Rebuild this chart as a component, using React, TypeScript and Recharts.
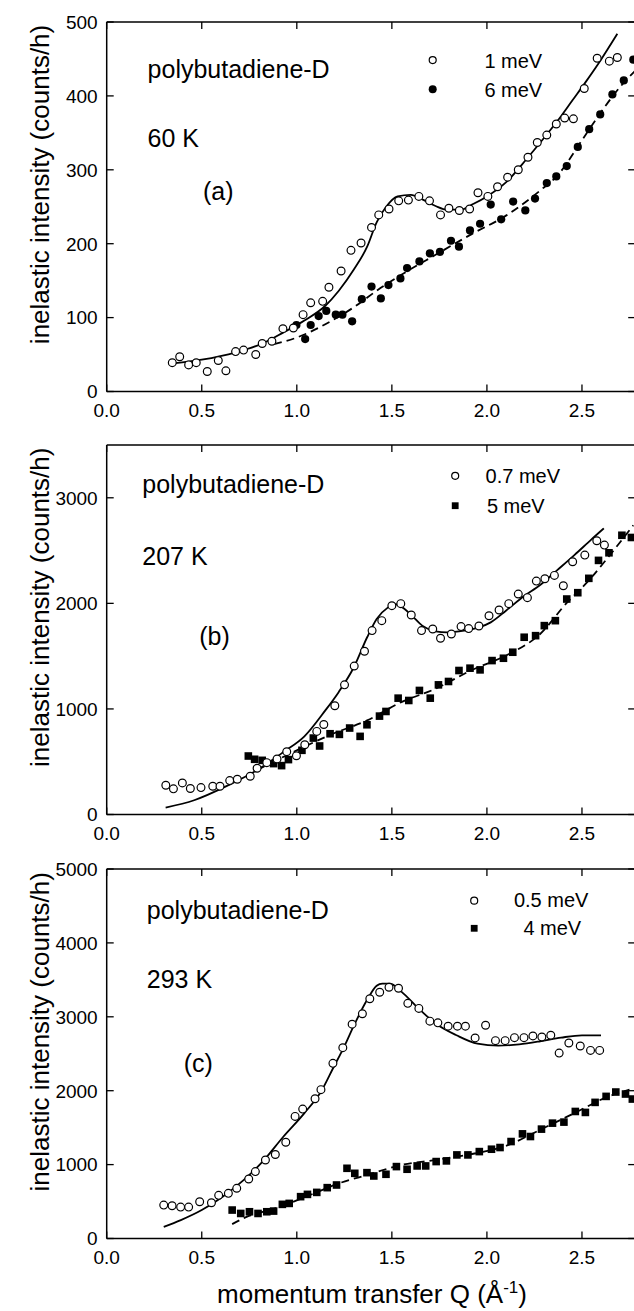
import React from 'react';
import { ComposedChart, Line, Scatter, XAxis, YAxis } from 'recharts';

const FONT = '"Liberation Sans", Arial, Helvetica, sans-serif';

// ---------- axes ----------
const qTicks = [0, 0.5, 1.0, 1.5, 2.0, 2.5];
const Q_MAX = 2.78;
const ticksA = [0, 100, 200, 300, 400, 500];
const ticksB = [0, 1000, 2000, 3000];
const ticksC = [0, 1000, 2000, 3000, 4000, 5000];

const pts = (arr: number[][]) => arr.map(([q, v]) => ({ q, v }));

// ---------- panel (a) 60 K ----------
const a_1meV = pts([
  [0.345, 39], [0.384, 47], [0.431, 36], [0.471, 39], [0.529, 27], [0.587, 42], [0.627, 28],
  [0.678, 54], [0.72, 56], [0.784, 50], [0.818, 65], [0.869, 68], [0.927, 85], [0.982, 86],
  [1.033, 104], [1.073, 120], [1.136, 122], [1.169, 141], [1.233, 163], [1.285, 191],
  [1.338, 201], [1.393, 222], [1.431, 239], [1.485, 247], [1.536, 258], [1.587, 259],
  [1.642, 264], [1.698, 258], [1.756, 239], [1.8, 248], [1.855, 245], [1.909, 247],
  [1.953, 269], [2.005, 264], [2.056, 277], [2.109, 290], [2.165, 300], [2.216, 317],
  [2.265, 337], [2.315, 347], [2.365, 362], [2.409, 370], [2.455, 369], [2.512, 410],
  [2.58, 451], [2.644, 447], [2.686, 452],
]);
const a_6meV = pts([
  [0.998, 90], [1.044, 71], [1.073, 90], [1.115, 102], [1.155, 109], [1.205, 104], [1.24, 104],
  [1.291, 95], [1.342, 125], [1.393, 142], [1.442, 126], [1.482, 144], [1.545, 153], [1.58, 167],
  [1.645, 176], [1.7, 187], [1.753, 189], [1.811, 204], [1.853, 196], [1.911, 218], [1.964, 227],
  [2.02, 253], [2.075, 233], [2.138, 257], [2.202, 245], [2.253, 261], [2.315, 282], [2.365, 291],
  [2.42, 305], [2.478, 331], [2.538, 355], [2.596, 375], [2.66, 402], [2.72, 421], [2.77, 449],
]);
const a_fit1 = pts([
  [0.35, 38], [0.5, 43], [0.68, 53], [0.82, 65], [0.93, 80], [1.04, 96], [1.15, 116], [1.22, 136],
  [1.3, 165], [1.37, 196], [1.42, 229], [1.47, 250], [1.53, 264], [1.6, 266], [1.66, 260],
  [1.73, 251], [1.79, 246], [1.86, 246], [1.93, 254], [2.0, 264], [2.1, 283], [2.21, 315],
  [2.3, 343], [2.38, 369], [2.45, 394], [2.52, 419], [2.6, 449], [2.686, 484],
]);
const a_fit6 = pts([
  [0.88, 64], [1.0, 73], [1.15, 91], [1.3, 114], [1.44, 140], [1.55, 158], [1.73, 185],
  [1.92, 213], [2.1, 238], [2.28, 272], [2.37, 292], [2.5, 340], [2.6, 378], [2.7, 412], [2.78, 434],
]);

// ---------- panel (b) 207 K ----------
const b_07meV = pts([
  [0.311, 277], [0.351, 243], [0.398, 299], [0.44, 246], [0.496, 255], [0.558, 268], [0.596, 268],
  [0.647, 321], [0.687, 334], [0.755, 362], [0.791, 438], [0.842, 491], [0.896, 526], [0.947, 595],
  [0.998, 557], [1.042, 661], [1.105, 787], [1.142, 853], [1.2, 1030], [1.251, 1228], [1.302, 1406],
  [1.356, 1546], [1.396, 1742], [1.447, 1836], [1.5, 1978], [1.547, 1997], [1.602, 1890],
  [1.656, 1742], [1.715, 1757], [1.756, 1669], [1.813, 1710], [1.864, 1780], [1.904, 1761],
  [1.958, 1786], [2.011, 1883], [2.064, 1937], [2.115, 1997], [2.165, 2088], [2.213, 2054],
  [2.26, 2211], [2.305, 2233], [2.355, 2265], [2.402, 2167], [2.451, 2394], [2.515, 2457],
  [2.578, 2593], [2.618, 2552],
]);
const b_5meV = pts([
  [0.745, 554], [0.778, 523], [0.818, 513], [0.878, 482], [0.92, 463], [0.956, 520], [1.027, 608],
  [1.087, 724], [1.12, 649], [1.175, 765], [1.224, 759], [1.278, 819], [1.333, 740], [1.369, 850],
  [1.435, 932], [1.469, 976], [1.533, 1102], [1.589, 1080], [1.645, 1175], [1.702, 1102],
  [1.745, 1228], [1.798, 1260], [1.853, 1364], [1.911, 1386], [1.964, 1370], [2.027, 1458],
  [2.087, 1480], [2.136, 1537], [2.196, 1679], [2.256, 1694], [2.302, 1789], [2.36, 1836],
  [2.42, 2041], [2.478, 2101], [2.536, 2237], [2.587, 2407], [2.642, 2479], [2.71, 2645], [2.76, 2624],
]);
const b_fit07 = pts([
  [0.31, 66], [0.46, 135], [0.64, 277], [0.79, 419], [0.93, 592], [1.04, 740], [1.15, 986],
  [1.22, 1159], [1.3, 1395], [1.37, 1679], [1.42, 1852], [1.48, 1962], [1.515, 1994], [1.55, 1969],
  [1.605, 1884], [1.66, 1789], [1.73, 1735], [1.79, 1726], [1.88, 1742], [1.95, 1767], [2.02, 1820],
  [2.1, 1930], [2.19, 2063], [2.28, 2174], [2.37, 2315], [2.46, 2457], [2.55, 2606], [2.615, 2710],
]);
const b_fit5 = pts([
  [0.8, 430], [1.0, 608], [1.19, 765], [1.37, 891], [1.55, 1065], [1.73, 1191], [1.915, 1364],
  [2.1, 1506], [2.28, 1710], [2.42, 2005], [2.53, 2205], [2.64, 2442], [2.77, 2740],
]);

// ---------- panel (c) 293 K ----------
const c_05meV = pts([
  [0.3, 452], [0.344, 443], [0.389, 425], [0.431, 425], [0.489, 498], [0.551, 484], [0.589, 584],
  [0.64, 611], [0.684, 679], [0.747, 805], [0.782, 905], [0.835, 1063], [0.887, 1136], [0.942, 1303],
  [0.991, 1652], [1.031, 1751], [1.096, 1891], [1.127, 2014], [1.19, 2370], [1.242, 2582],
  [1.291, 2900], [1.345, 3041], [1.384, 3245], [1.436, 3332], [1.485, 3400], [1.535, 3386],
  [1.584, 3182], [1.642, 3114], [1.7, 2941], [1.742, 2918], [1.796, 2873], [1.845, 2873],
  [1.887, 2873], [1.938, 2714], [1.993, 2886], [2.045, 2677], [2.096, 2677], [2.145, 2718],
  [2.195, 2718], [2.242, 2741], [2.289, 2727], [2.336, 2750], [2.38, 2509], [2.431, 2645],
  [2.491, 2605], [2.545, 2545], [2.593, 2545],
]);
const c_4meV = pts([
  [0.66, 385], [0.705, 339], [0.751, 362], [0.796, 339], [0.842, 362], [0.878, 371], [0.924, 462],
  [0.96, 475], [1.02, 566], [1.056, 597], [1.105, 624], [1.16, 688], [1.209, 724], [1.264, 950],
  [1.305, 882], [1.369, 891], [1.405, 846], [1.469, 869], [1.524, 973], [1.58, 937], [1.633, 982],
  [1.678, 982], [1.733, 1041], [1.787, 1050], [1.842, 1131], [1.9, 1131], [1.96, 1176],
  [2.024, 1208], [2.069, 1231], [2.127, 1312], [2.187, 1416], [2.229, 1380], [2.287, 1480],
  [2.345, 1561], [2.405, 1575], [2.465, 1719], [2.518, 1706], [2.569, 1842], [2.627, 1923],
  [2.678, 1982], [2.729, 1955], [2.765, 1887],
]);
const c_fit05 = pts([
  [0.3, 158], [0.39, 249], [0.5, 385], [0.61, 566], [0.72, 790], [0.82, 1040], [0.93, 1380],
  [1.04, 1697], [1.13, 2000], [1.19, 2300], [1.25, 2600], [1.3, 2880], [1.37, 3230], [1.42, 3420],
  [1.45, 3450], [1.49, 3450], [1.55, 3341], [1.64, 3114], [1.73, 2909], [1.84, 2750], [1.95, 2636],
  [2.06, 2609], [2.17, 2627], [2.28, 2668], [2.39, 2718], [2.5, 2750], [2.6, 2750],
]);
const c_fit4 = pts([
  [0.66, 195], [0.73, 285], [0.9, 420], [1.1, 620], [1.22, 745], [1.37, 860], [1.55, 995],
  [1.73, 1063], [1.915, 1140], [2.1, 1253], [2.28, 1471], [2.46, 1697], [2.64, 1923], [2.75, 2014],
]);

// ---------- geometry ----------
const CW = 640;
const CH = 420;
const PLOT_LEFT = 106.7;
const PLOT_RIGHT = 635.2;
const PLOT_H = 369.5;
const AXS = 1; // axis band size (axes with size 0 are not drawn)
const MARGIN = {
  top: 20 - AXS,
  left: PLOT_LEFT - AXS,
  right: CW - PLOT_RIGHT - AXS,
  bottom: CH - 20 - PLOT_H - AXS,
};
const TICK = 7;
const AX = { stroke: '#000', strokeWidth: 1.5 };

const BottomTick = (p: any) => (
  <g>
    <line x1={p.x} x2={p.x} y1={p.y} y2={p.y - TICK} stroke="#000" strokeWidth={1.3} />
    <text x={p.x} y={p.y + 25} textAnchor="middle" fontSize={19} fontFamily={FONT} fill="#000">
      {Number(p.payload.value).toFixed(1)}
    </text>
  </g>
);
const TopTick = (p: any) => (
  <line x1={p.x} x2={p.x} y1={p.y} y2={p.y + TICK} stroke="#000" strokeWidth={1.3} />
);
const LeftTick = (p: any) => (
  <g>
    <line x1={p.x} x2={p.x + TICK} y1={p.y} y2={p.y} stroke="#000" strokeWidth={1.3} />
    <text x={p.x - 9} y={p.y + 6.8} textAnchor="end" fontSize={19} fontFamily={FONT} fill="#000">
      {p.payload.value}
    </text>
  </g>
);
const RightTick = (p: any) => (
  <line x1={p.x} x2={p.x - TICK} y1={p.y} y2={p.y} stroke="#000" strokeWidth={1.3} />
);

const OpenCircle = (p: any) => (
  <circle cx={p.cx} cy={p.cy} r={3.9} fill="#fff" stroke="#000" strokeWidth={1.2} />
);
const FilledCircle = (p: any) => <circle cx={p.cx} cy={p.cy} r={4.1} fill="#000" />;
const FilledSquare = (p: any) => (
  <rect x={p.cx - 3.8} y={p.cy - 3.8} width={7.6} height={7.6} fill="#000" />
);

type PanelProps = {
  top: number;
  yMax: number;
  yTicks: number[];
  open: any[];
  openFit: any[];
  filled: any[];
  filledFit: any[];
  filledShape: any;
  dash: string;
};

function Panel({ top, yMax, yTicks, open, openFit, filled, filledFit, filledShape, dash }: PanelProps) {
  return (
    <div style={{ position: 'absolute', left: 0, top }}>
      <ComposedChart width={CW} height={CH} margin={MARGIN}>
        <XAxis dataKey="q" type="number" domain={[0, Q_MAX]} ticks={qTicks} interval={0}
          allowDataOverflow height={AXS} tickSize={0} tickMargin={0} tickLine={false}
          axisLine={AX} tick={BottomTick} />
        <XAxis xAxisId="t" orientation="top" dataKey="q" type="number" domain={[0, Q_MAX]}
          ticks={qTicks} interval={0} allowDataOverflow height={AXS} tickSize={0} tickMargin={0}
          tickLine={false} axisLine={AX} tick={TopTick} />
        <YAxis dataKey="v" type="number" domain={[0, yMax]} ticks={yTicks} interval={0}
          allowDataOverflow width={AXS} tickSize={0} tickMargin={0} tickLine={false}
          axisLine={AX} tick={LeftTick} />
        <YAxis yAxisId="r" orientation="right" dataKey="v" type="number" domain={[0, yMax]}
          ticks={yTicks} interval={0} allowDataOverflow width={AXS} tickSize={0} tickMargin={0}
          tickLine={false} axisLine={AX} tick={RightTick} />
        <Line data={openFit} dataKey="v" type="monotone" stroke="#000" strokeWidth={1.8}
          dot={false} activeDot={false} isAnimationActive={false} />
        <Line data={filledFit} dataKey="v" type="monotone" stroke="#000" strokeWidth={1.8}
          strokeDasharray={dash} dot={false} activeDot={false} isAnimationActive={false} />
        <Scatter data={filled} shape={filledShape} isAnimationActive={false} />
        <Scatter data={open} shape={OpenCircle} isAnimationActive={false} />
      </ComposedChart>
    </div>
  );
}

const PANEL_TOPS = [21.7, 444.5, 869];

const txt = (size: number) => ({ fontSize: size, fontFamily: FONT, fill: '#000' });

export default function App() {
  return (
    <div style={{ position: 'absolute', left: 0, top: 0, width: 634, height: 1311, overflow: 'hidden', background: '#fff' }}>
      <Panel top={PANEL_TOPS[0] - 20} yMax={500} yTicks={ticksA} open={a_1meV} openFit={a_fit1}
        filled={a_6meV} filledFit={a_fit6} filledShape={FilledCircle} dash="8 5" />
      <Panel top={PANEL_TOPS[1] - 20} yMax={3500} yTicks={ticksB} open={b_07meV} openFit={b_fit07}
        filled={b_5meV} filledFit={b_fit5} filledShape={FilledSquare} dash="8 5" />
      <Panel top={PANEL_TOPS[2] - 20} yMax={5000} yTicks={ticksC} open={c_05meV} openFit={c_fit05}
        filled={c_4meV} filledFit={c_fit4} filledShape={FilledSquare} dash="8 5" />
      <svg width={634} height={1311} style={{ position: 'absolute', left: 0, top: 0, pointerEvents: 'none' }}>
        {PANEL_TOPS.map((t, i) => {
          const cy = t + PLOT_H / 2 - 22;
          return (
            <text key={i} x={40} y={cy} transform={`rotate(-90 40 ${cy})`} textAnchor="middle"
              dominantBaseline="central" {...txt(26)}>inelastic intensity (counts/h)</text>
          );
        })}
        {/* panel a */}
        <text x={147.6} y={78.3} {...txt(25)}>polybutadiene-D</text>
        <text x={147.6} y={146.6} {...txt(25)}>60 K</text>
        <text x={203} y={200} {...txt(25)}>(a)</text>
        <circle cx={432.7} cy={60.1} r={3.5} fill="#fff" stroke="#000" strokeWidth={1.2} />
        <text x={484.4} y={67.5} {...txt(20)}>1 meV</text>
        <circle cx={432.7} cy={89.3} r={4} fill="#000" />
        <text x={484.4} y={96.6} {...txt(20)}>6 meV</text>
        {/* panel b */}
        <text x={142.3} y={493.3} {...txt(25)}>polybutadiene-D</text>
        <text x={142.3} y={565} {...txt(25)}>207 K</text>
        <text x={199.3} y={645} {...txt(25)}>(b)</text>
        <circle cx={455.2} cy={475.8} r={3.5} fill="#fff" stroke="#000" strokeWidth={1.2} />
        <text x={485.6} y={483.3} {...txt(20)}>0.7 meV</text>
        <rect x={451.8} y={502.3} width={6.8} height={6.8} fill="#000" />
        <text x={486.9} y={512.7} {...txt(20)}>5 meV</text>
        {/* panel c */}
        <text x={146.8} y={919.3} {...txt(25)}>polybutadiene-D</text>
        <text x={146.8} y={988.3} {...txt(25)}>293 K</text>
        <text x={183.7} y={1071.7} {...txt(25)}>(c)</text>
        <circle cx={474.2} cy={900.7} r={3.5} fill="#fff" stroke="#000" strokeWidth={1.2} />
        <text x={513.9} y={906.7} {...txt(20)}>0.5 meV</text>
        <rect x={470.8} y={924.9} width={6.8} height={6.8} fill="#000" />
        <text x={581.2} y={935} textAnchor="end" {...txt(20)}>4 meV</text>
        {/* x label */}
        <text x={372} y={1303} textAnchor="middle" {...txt(26)}>
          momentum transfer Q (Å
          <tspan fontSize={17} dy={-10}>-1</tspan>
          <tspan dy={10}>)</tspan>
        </text>
      </svg>
    </div>
  );
}
